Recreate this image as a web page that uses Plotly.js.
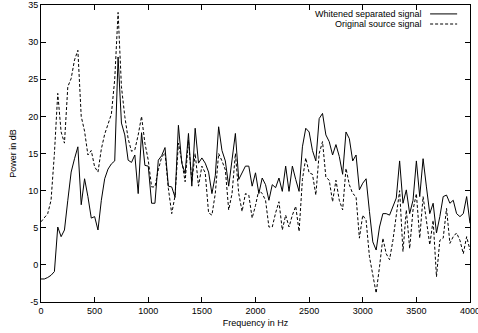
<!DOCTYPE html>
<html>
<head>
<meta charset="utf-8">
<script src="https://cdn.plot.ly/plotly-3.0.1.min.js"></script>
<style>html,body{margin:0;padding:0;background:#fff;}#chart{width:478px;height:333px;}</style>
</head>
<body>
<div id="chart"></div>
<script>
// Frequency step (Hz) between samples, 129 samples from 0 to 4000 Hz
const freqStep = 31.25;
const seriesNames = ["Whitened separated signal", "Original source signal"];
const whitened = [
  -1.9, -1.9, -1.7, -1.4, -0.9, 5.1, 3.8, 4.7, 8.7, 12.5,
  14.3, 15.9, 8.1, 11.6, 9.2, 6.3, 6.5, 4.7, 8.7, 11.6,
  12.9, 13.6, 14.0, 28.0, 19.1, 17.5, 14.1, 13.8, 14.8, 9.6,
  17.8, 13.4, 13.3, 8.3, 8.3, 14.1, 14.7, 15.8, 10.6, 10.5,
  9.1, 18.8, 13.7, 12.3, 17.7, 10.6, 18.4, 13.7, 14.4, 13.7,
  12.5, 9.6, 12.0, 18.6, 15.4, 14.0, 10.6, 14.0, 17.7, 11.5,
  12.4, 13.3, 13.3, 10.6, 12.4, 9.6, 11.7, 10.8, 8.7, 10.8,
  10.4, 11.7, 9.9, 13.3, 9.9, 13.3, 11.5, 9.9, 15.9, 18.4,
  17.9, 15.4, 14.0, 19.7, 20.4, 17.5, 16.6, 14.8, 16.2, 14.6,
  12.2, 17.9, 17.0, 14.0, 14.8, 10.1, 11.0, 11.6, 7.2, 3.1,
  2.0, 5.1, 6.9, 6.9, 6.7, 7.9, 9.0, 14.0, 8.3, 10.1,
  6.9, 8.7, 14.0, 9.2, 14.3, 10.5, 6.9, 8.3, 4.3, 6.5,
  9.2, 9.4, 8.3, 8.7, 6.9, 6.5, 6.9, 9.2, 5.6
];
const original = [
  5.8, 6.3, 6.9, 8.7, 15.0, 23.1, 17.9, 16.4, 24.0, 25.1,
  27.6, 28.9, 20.0, 18.0, 14.8, 15.4, 13.2, 12.5, 15.6, 17.6,
  19.0, 20.3, 25.0, 34.0, 24.0, 20.0, 17.0, 15.3, 15.5, 17.5,
  20.0, 16.4, 14.1, 10.5, 10.5, 12.8, 14.5, 15.1, 10.3, 6.9,
  9.3, 16.4, 14.0, 11.2, 16.8, 11.2, 15.0, 10.6, 13.3, 12.4,
  7.0, 6.7, 9.6, 15.0, 14.0, 12.8, 7.4, 9.6, 15.0, 9.6,
  7.2, 9.6, 9.4, 6.3, 8.0, 10.1, 9.6, 8.7, 5.1, 5.1,
  7.0, 8.5, 4.7, 6.7, 5.1, 6.7, 7.9, 4.5, 11.5, 14.4,
  12.4, 12.2, 9.4, 15.0, 16.6, 11.8, 11.4, 8.5, 11.4, 8.7,
  7.4, 13.0, 10.8, 9.6, 9.2, 3.6, 6.7, 6.0, 1.1, -1.1,
  -3.8, -0.25, 3.6, 1.5, 0.7, 3.3, 6.9, 10.0, 1.8, 7.4,
  2.2, 7.4, 9.6, 3.6, 9.2, 6.0, 2.7, 6.0, -1.6, 3.3,
  3.6, 7.6, 2.9, 3.8, 4.3, 3.3, 1.5, 3.8, 2.0
];
const freqs = whitened.map((_, i) => i * freqStep);
const xTicks = [0, 500, 1000, 1500, 2000, 2500, 3000, 3500, 4000];
const yTicks = [-5, 0, 5, 10, 15, 20, 25, 30, 35];

const font = {family: "Liberation Sans, Arial, sans-serif", size: 9, color: "#000"};
const dashStyle = "3px,2px";

const traces = [
  {x: freqs, y: whitened, type: "scatter", mode: "lines", name: seriesNames[0],
   line: {color: "#000", width: 1}},
  {x: freqs, y: original, type: "scatter", mode: "lines", name: seriesNames[1],
   line: {color: "#000", width: 1, dash: dashStyle}}
];

const axisCommon = {
  showgrid: false, zeroline: false, showline: true, linecolor: "#000", linewidth: 1,
  mirror: "ticks", ticks: "inside", ticklen: 5, tickcolor: "#000", tickwidth: 1,
  tickfont: font, ticklabeloverflow: "allow"
};

const layout = {
  width: 478, height: 333,
  margin: {l: 41, r: 8, t: 5, b: 31},
  paper_bgcolor: "#fff", plot_bgcolor: "#fff",
  showlegend: false,
  font: font,
  xaxis: Object.assign({}, axisCommon, {
    range: [0, 4000], tickvals: xTicks, ticktext: xTicks.map(String),
    title: {text: "Frequency in Hz", font: font, standoff: 4}
  }),
  yaxis: Object.assign({}, axisCommon, {
    range: [-5, 35], tickvals: yTicks, ticktext: yTicks.map(String),
    title: {text: "Power in dB", font: font, standoff: 10}
  }),
  annotations: [
    {xref: "paper", yref: "paper", x: 0.893, y: 0.97, xanchor: "right", yanchor: "middle",
     text: seriesNames[0], showarrow: false, font: font},
    {xref: "paper", yref: "paper", x: 0.893, y: 0.936, xanchor: "right", yanchor: "middle",
     text: seriesNames[1], showarrow: false, font: font}
  ],
  shapes: [
    {type: "line", xref: "paper", yref: "paper", x0: 0.907, x1: 0.97, y0: 0.97, y1: 0.97,
     line: {color: "#000", width: 1}},
    {type: "line", xref: "paper", yref: "paper", x0: 0.907, x1: 0.97, y0: 0.936, y1: 0.936,
     line: {color: "#000", width: 1, dash: dashStyle}}
  ]
};

Plotly.newPlot("chart", traces, layout, {staticPlot: true, displayModeBar: false});
</script>
</body>
</html>
